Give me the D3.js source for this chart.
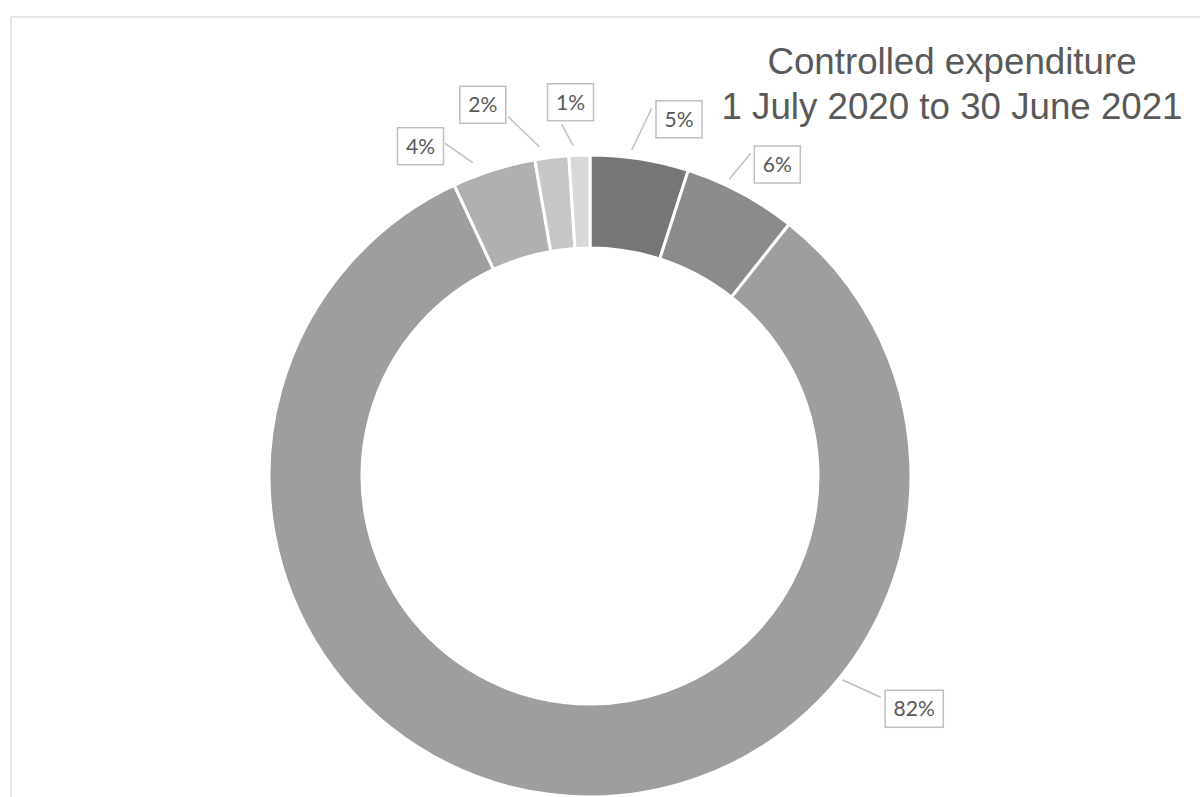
<!DOCTYPE html>
<html>
<head>
<meta charset="utf-8">
<script src="https://cdn.jsdelivr.net/npm/d3@7"></script>
<style>
    body { margin: 0; background: #fff; }
    #donut-area { width: 1200px; height: 797px; overflow: hidden; }
    .slice-label { font-family: Lato, "Open Sans", sans-serif; font-size: 21px; fill: #595959; }
    .chart-title { font-family: "Liberation Sans", Arial, sans-serif; font-size: 36.7px; fill: #595959; }
</style>
</head>
<body>
<div id="donut-area"></div>
<script>

// data (share of controlled expenditure, clockwise from 12 o'clock)
const categories = ["Item A", "Item B", "Item C", "Item D", "Item E", "Item F"];
const shares = [4.95, 5.7, 82.4, 4.2, 1.7, 1.05];
const sliceColors = ["#767676", "#8b8b8b", "#9e9e9e", "#b0b0b0", "#c6c6c6", "#d8d8d8"];
const titleLines = ["Controlled expenditure", "1 July 2020 to 30 June 2021"];

// where the labels were dragged to (relative to the donut centre)
const labelBox = [[89, -356.7], [187.3, -311.5], [324.2, 232.8], [-169.5, -329.8], [-107.2, -371.2], [-19.5, -373.8]];
const leaderFrom = [[61.7, -367.7], [160.7, -322.7], [290.7, 221.3], [-145, -332.7], [-81.7, -359.3], [-28.3, -351.7]];
const leaderTo = [[41.7, -326], [139.3, -296.7], [252.7, 204], [-117.3, -313.3], [-50.7, -329.3], [-16.7, -330]];


class DonutChart {

    constructor(parentElement) {
        this.parentElement = parentElement;
        this.initVis();
    }

    initVis() {
        let vis = this;

        vis.width = 1200;
        vis.height = 797;
        vis.cx = 590;
        vis.cy = 476;
        vis.outer = 321;
        vis.inner = 228;

        vis.svg = d3.select("#" + vis.parentElement).append("svg")
            .attr("width", vis.width)
            .attr("height", vis.height);

        // chart frame (runs off the right and bottom of the page)
        vis.svg.append("rect")
            .attr("x", 11)
            .attr("y", 17)
            .attr("width", 1300)
            .attr("height", 900)
            .attr("fill", "none")
            .attr("stroke", "#d9d9d9")
            .attr("stroke-width", 1.3);

        vis.g = vis.svg.append("g")
            .attr("transform", `translate(${vis.cx}, ${vis.cy})`);

        vis.pie = d3.pie()
            .sort(null)
            .value(d => d.value);

        vis.arc = d3.arc()
            .innerRadius(vis.inner)
            .outerRadius(vis.outer);

        vis.wrangleData();
    }

    wrangleData() {
        let vis = this;
        let total = d3.sum(shares);

        vis.displayData = categories.map((c, i) => {
            return {
                name: c,
                value: shares[i],
                color: sliceColors[i],
                pct: Math.round(shares[i] / total * 100) + "%",
                box: labelBox[i],
                from: leaderFrom[i],
                to: leaderTo[i]
            };
        });

        vis.updateVis();
    }

    updateVis() {
        let vis = this;

        vis.g.selectAll(".slice")
            .data(vis.pie(vis.displayData))
            .enter()
            .append("path")
            .attr("class", "slice")
            .attr("d", vis.arc)
            .attr("fill", d => d.data.color)
            .attr("stroke", "#fff")
            .attr("stroke-width", 3);

        // leader lines
        vis.g.selectAll(".leader")
            .data(vis.displayData)
            .enter()
            .append("line")
            .attr("class", "leader")
            .attr("x1", d => d.from[0])
            .attr("y1", d => d.from[1])
            .attr("x2", d => d.to[0])
            .attr("y2", d => d.to[1])
            .attr("stroke", "#bfbfbf")
            .attr("stroke-width", 1.5);

        // boxed percentage labels
        let labels = vis.g.selectAll(".label-grp")
            .data(vis.displayData)
            .enter()
            .append("g")
            .attr("class", "label-grp")
            .attr("transform", d => `translate(${d.box[0]}, ${d.box[1]})`);

        labels.append("rect")
            .attr("fill", "#fff")
            .attr("stroke", "#bfbfbf")
            .attr("stroke-width", 1.5);

        labels.append("text")
            .attr("class", "slice-label")
            .attr("text-anchor", "middle")
            .attr("dy", "0.36em")
            .text(d => d.pct);

        labels.each(function() {
            let grp = d3.select(this);
            let w = grp.select("text").node().getComputedTextLength() + 17;
            grp.select("rect")
                .attr("x", -w / 2)
                .attr("y", -18.5)
                .attr("width", w)
                .attr("height", 37);
        });

        // title
        vis.svg.append("text")
            .attr("class", "chart-title")
            .attr("text-anchor", "middle")
            .selectAll("tspan")
            .data(titleLines)
            .enter()
            .append("tspan")
            .attr("x", 952)
            .attr("y", (d, i) => 74 + i * 45)
            .text(d => d);
    }
}

new DonutChart("donut-area");

</script>
</body>
</html>
